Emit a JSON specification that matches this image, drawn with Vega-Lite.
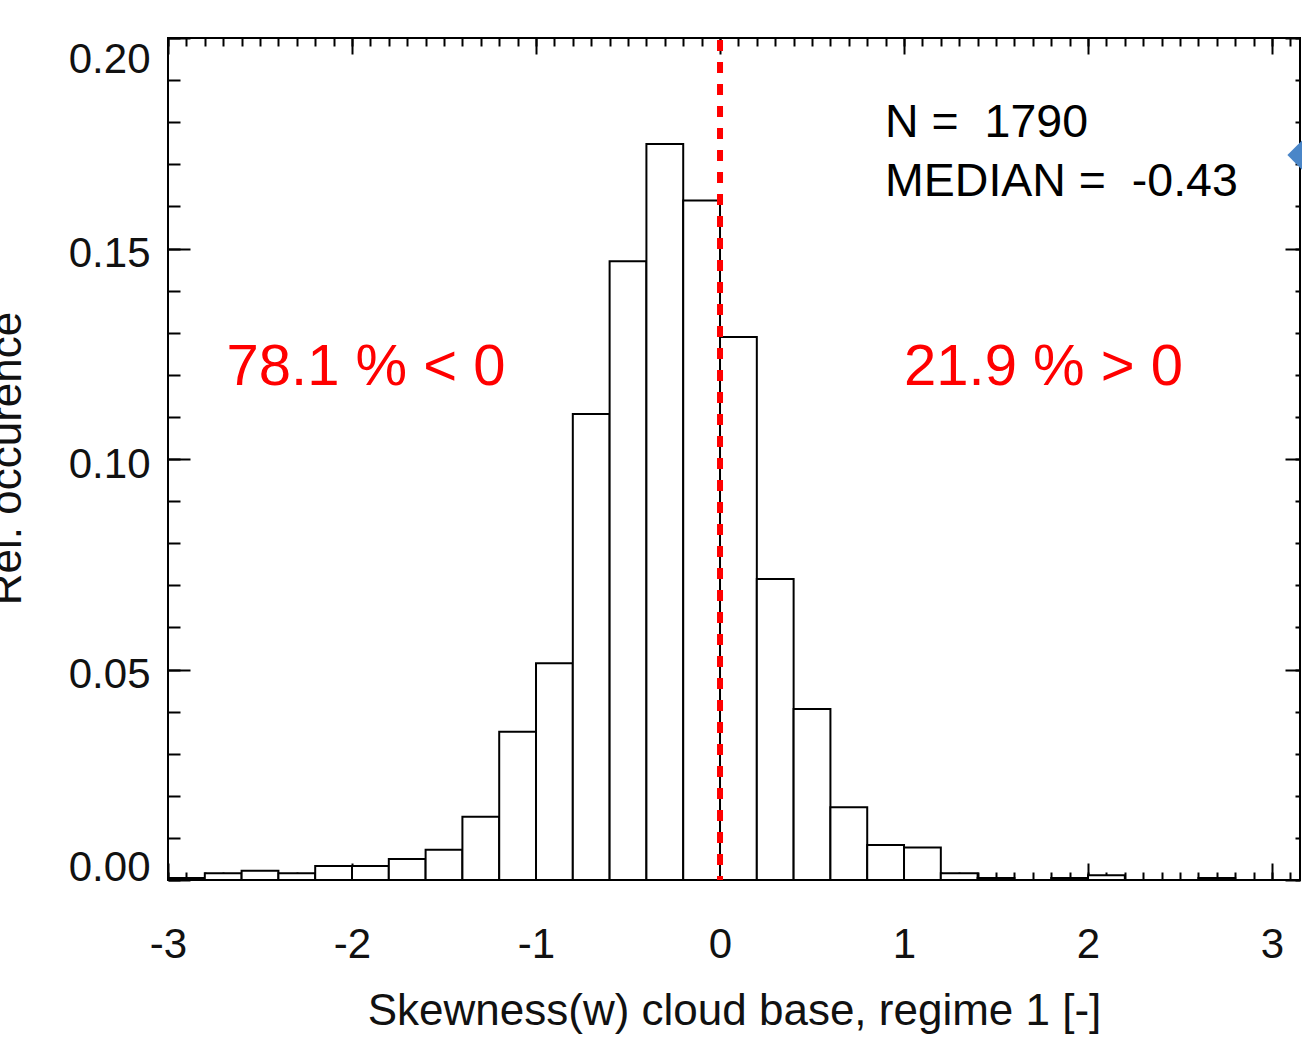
{
  "$schema": "https://vega.github.io/schema/vega-lite/v6.json",
  "autosize": {"type": "none"},
  "padding": {"left": 168, "top": 38, "right": 2, "bottom": 159},
  "width": 1132,
  "height": 842,
  "background": "white",
  "config": {
    "view": {"stroke": "black", "strokeWidth": 2},
    "font": "Liberation Sans",
    "axis": {"grid": false, "domain": false, "zindex": 1, "tickColor": "black", "tickWidth": 2, "labelFont": "Liberation Sans", "titleFont": "Liberation Sans", "labelColor": "#111", "titleColor": "#111", "titleFontWeight": "normal"}
  },
  "datasets": {
    "bins": [
      {"lo": -3.0, "hi": -2.8, "value": 0.0005},
      {"lo": -2.8, "hi": -2.6, "value": 0.0016},
      {"lo": -2.6, "hi": -2.4, "value": 0.0022},
      {"lo": -2.4, "hi": -2.2, "value": 0.0016},
      {"lo": -2.2, "hi": -2.0, "value": 0.0033},
      {"lo": -2.0, "hi": -1.8, "value": 0.0033},
      {"lo": -1.8, "hi": -1.6, "value": 0.0050},
      {"lo": -1.6, "hi": -1.4, "value": 0.0072},
      {"lo": -1.4, "hi": -1.2, "value": 0.0150},
      {"lo": -1.2, "hi": -1.0, "value": 0.0352},
      {"lo": -1.0, "hi": -0.8, "value": 0.0515},
      {"lo": -0.8, "hi": -0.6, "value": 0.1107},
      {"lo": -0.6, "hi": -0.4, "value": 0.1470},
      {"lo": -0.4, "hi": -0.2, "value": 0.1748},
      {"lo": -0.2, "hi": 0.0, "value": 0.1614},
      {"lo": 0.0, "hi": 0.2, "value": 0.1290},
      {"lo": 0.2, "hi": 0.4, "value": 0.0715},
      {"lo": 0.4, "hi": 0.6, "value": 0.0406},
      {"lo": 0.6, "hi": 0.8, "value": 0.0173},
      {"lo": 0.8, "hi": 1.0, "value": 0.0083},
      {"lo": 1.0, "hi": 1.2, "value": 0.0077},
      {"lo": 1.2, "hi": 1.4, "value": 0.0016},
      {"lo": 1.4, "hi": 1.6, "value": 0.0005},
      {"lo": 1.8, "hi": 2.0, "value": 0.0005},
      {"lo": 2.0, "hi": 2.2, "value": 0.0011},
      {"lo": 2.6, "hi": 2.8, "value": 0.0005}
    ],
    "red": [
      {"x": -1.924, "y": 0.1176, "label": "78.1 % < 0"},
      {"x": 1.758, "y": 0.1176, "label": "21.9 % > 0"}
    ],
    "stats": [
      {"x": 0.897, "y": 0.1765, "label": "N = \u00a01790"},
      {"x": 0.897, "y": 0.1625, "label": "MEDIAN = \u00a0-0.43"}
    ],
    "arrow": [
      {"x": 3.205, "y": 0.1722}
    ],
    "median": [
      {"x": 0, "y0": 0, "y1": 0.2}
    ]
  },
  "layer": [
    {
      "data": {"name": "bins"},
      "mark": {"type": "bar", "fill": "white", "stroke": "black", "strokeWidth": 2},
      "encoding": {
        "x": {"field": "lo", "type": "quantitative",
          "scale": {"domain": [-3, 3.152], "nice": false, "zero": false},
          "axis": {"orient": "bottom", "values": [-3, -2, -1, 0, 1, 2, 3], "tickSize": -17, "labelFontSize": 42, "labelBaseline": "alphabetic", "labelPadding": 94, "labelFlush": false, "labelExpr": "'' + datum.value",
            "title": "Skewness(w) cloud base, regime 1 [-]", "titleFontSize": 44, "titleBaseline": "alphabetic", "titleY": 144, "titleAnchor": "middle"}},
        "x2": {"field": "hi"},
        "y": {"field": "value", "type": "quantitative",
          "scale": {"domain": [0, 0.2], "nice": false, "zero": true},
          "axis": {"orient": "left", "values": [0, 0.05, 0.1, 0.15, 0.2], "tickSize": -22, "labelFontSize": 42, "labelPadding": 40, "labelFlush": false, "format": ".2f",
            "labelOffset": {"condition": [{"test": "datum.value >= 0.199", "value": 1}, {"test": "datum.value <= 0.001", "value": 9}], "value": 5},
            "labelBaseline": {"condition": [{"test": "datum.value >= 0.199", "value": "top"}, {"test": "datum.value <= 0.001", "value": "bottom"}], "value": "middle"},
            "title": "Rel. occurence", "titleFontSize": 44, "titleAngle": 270, "titleBaseline": "alphabetic", "titleAlign": "center", "titleX": -148, "titleY": 420}},
        "y2": {"datum": 0}
      }
    },
    {
      "data": {"name": "median"},
      "mark": {"type": "rule", "color": "#ff0000", "strokeWidth": 6, "strokeDash": [11, 11], "strokeDashOffset": 7},
      "encoding": {
        "x": {"field": "x", "type": "quantitative", "scale": {"domain": [-3, 3.152], "nice": false, "zero": false}, "axis": null},
        "y": {"field": "y0", "type": "quantitative", "scale": {"domain": [0, 0.2], "nice": false, "zero": true}, "axis": null},
        "y2": {"field": "y1"}
      }
    },
    {
      "data": {"name": "red"},
      "mark": {"type": "text", "color": "#ff0000", "fontSize": 58, "align": "center", "baseline": "alphabetic", "font": "Liberation Sans"},
      "encoding": {
        "x": {"field": "x", "type": "quantitative", "scale": {"domain": [-3, 3.152], "nice": false, "zero": false},
          "axis": {"orient": "bottom", "values": [-3,-2.9,-2.8,-2.7,-2.6,-2.5,-2.4,-2.3,-2.2,-2.1,-2,-1.9,-1.8,-1.7,-1.6,-1.5,-1.4,-1.3,-1.2,-1.1,-1,-0.9,-0.8,-0.7,-0.6,-0.5,-0.4,-0.3,-0.2,-0.1,0,0.1,0.2,0.3,0.4,0.5,0.6,0.7,0.8,0.9,1,1.1,1.2,1.3,1.4,1.5,1.6,1.7,1.8,1.9,2,2.1,2.2,2.3,2.4,2.5,2.6,2.7,2.8,2.9,3,3.1], "tickSize": -8, "labels": false, "title": null}},
        "y": {"field": "y", "type": "quantitative", "scale": {"domain": [0, 0.2], "nice": false, "zero": true},
          "axis": {"orient": "left", "values": [0,0.01,0.02,0.03,0.04,0.05,0.06,0.07,0.08,0.09,0.1,0.11,0.12,0.13,0.14,0.15,0.16,0.17,0.18,0.19,0.2], "tickSize": -12, "labels": false, "title": null}},
        "text": {"field": "label"}
      }
    },
    {
      "data": {"name": "stats"},
      "mark": {"type": "text", "color": "#000000", "fontSize": 46.5, "align": "left", "baseline": "alphabetic", "font": "Liberation Sans"},
      "encoding": {
        "x": {"field": "x", "type": "quantitative", "scale": {"domain": [-3, 3.152], "nice": false, "zero": false},
          "axis": {"orient": "top", "values": [-3, -2, -1, 0, 1, 2, 3], "tickSize": -16, "labels": false, "title": null}},
        "y": {"field": "y", "type": "quantitative", "scale": {"domain": [0, 0.2], "nice": false, "zero": true},
          "axis": {"orient": "right", "values": [0, 0.05, 0.1, 0.15, 0.2], "tickSize": -15, "labels": false, "title": null}},
        "text": {"field": "label"}
      }
    },
    {
      "data": {"name": "arrow"},
      "mark": {"type": "point", "shape": "diamond", "filled": true, "color": "#4a86c8", "size": 2000, "opacity": 1},
      "encoding": {
        "x": {"field": "x", "type": "quantitative", "scale": {"domain": [-3, 3.152], "nice": false, "zero": false},
          "axis": {"orient": "top", "values": [-3,-2.9,-2.8,-2.7,-2.6,-2.5,-2.4,-2.3,-2.2,-2.1,-2,-1.9,-1.8,-1.7,-1.6,-1.5,-1.4,-1.3,-1.2,-1.1,-1,-0.9,-0.8,-0.7,-0.6,-0.5,-0.4,-0.3,-0.2,-0.1,0,0.1,0.2,0.3,0.4,0.5,0.6,0.7,0.8,0.9,1,1.1,1.2,1.3,1.4,1.5,1.6,1.7,1.8,1.9,2,2.1,2.2,2.3,2.4,2.5,2.6,2.7,2.8,2.9,3,3.1], "tickSize": -8, "labels": false, "title": null}},
        "y": {"field": "y", "type": "quantitative", "scale": {"domain": [0, 0.2], "nice": false, "zero": true},
          "axis": {"orient": "right", "values": [0,0.01,0.02,0.03,0.04,0.05,0.06,0.07,0.08,0.09,0.1,0.11,0.12,0.13,0.14,0.15,0.16,0.17,0.18,0.19,0.2], "tickSize": -5, "labels": false, "title": null}}
      }
    }
  ],
  "resolve": {"axis": {"x": "independent", "y": "independent"}}
}
